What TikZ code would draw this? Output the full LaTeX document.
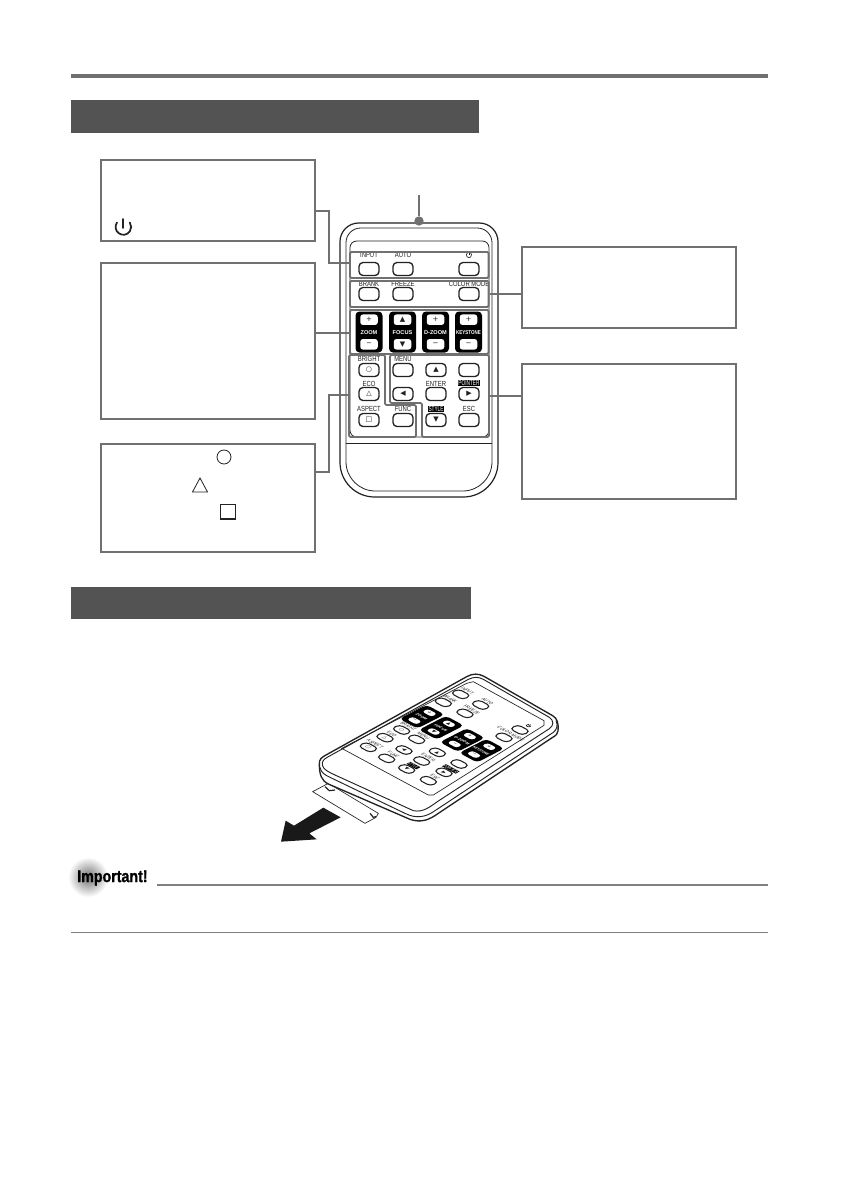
\documentclass[tikz,border=0pt]{standalone}
\usepackage{fontspec}
\setmainfont{Liberation Sans}
\newfontfamily\dvsym{DejaVu Sans}
\newfontfamily\impfont[UprightFont={* Bold},FakeBold=1.4]{Liberation Sans}
\definecolor{bar}{HTML}{535353}
\definecolor{rule}{HTML}{707070}
\definecolor{ink}{HTML}{222222}
\setlength{\fboxsep}{0.7pt}
\newcommand\keylw{1pt}
\tikzset{
  keyform/.style={cm={.75,0,0,.75,(0,0)}},
  callout/.style={draw=rule,line width=1.6pt,minimum width=160.5pt,inner sep=0,fill=white},
  wire/.style={draw=rule,line width=1.5pt},
  groupframe/.style={draw=rule,line width=1.4pt,rounded corners=1pt,inner sep=0},
  keybtn/.style={draw=ink,line width=\keylw,rounded corners=3pt,minimum width=20pt,minimum height=13pt,inner sep=0,font=\dvsym\fontsize{7}{7}\selectfont,text=ink,fill=white},
  keywhite/.style={fill=white,rounded corners=2pt,minimum width=17.5pt,minimum height=10.5pt,inner sep=0,font=\dvsym\fontsize{7}{7}\selectfont,text=ink},
  keyblock/.style={fill=black,rounded corners=3pt,minimum width=27pt,minimum height=41pt,inner sep=0},
  keylab/.style={font=\fontsize{7.4}{8}\selectfont,text=ink,inner sep=0},
  blocklab/.style={font=\bfseries\fontsize{5.6}{6}\selectfont,text=white,inner sep=0},
  outline/.style={draw=ink,line width=.9pt},
}
\newcommand\narrow[1]{\scalebox{.8}[1]{#1}}
\newcommand\invl[1]{\colorbox{black}{\textcolor{white}{\narrow{#1}}}}
\newcommand\key[6][11]{%
  \begin{scope}[shift={(#3,#4)},keyform,x=1pt,y=1pt,nodes={transform shape}]
    \node[keybtn] (#2) at (0,0) {#6};
    \if\relax\detokenize{#5}\relax\else\node[keylab] (#2-l) at (0,#1) {\narrow{#5}};\fi
  \end{scope}}
\newcommand\block[6]{%
  \begin{scope}[shift={(#2,#3)},keyform,x=1pt,y=1pt,nodes={transform shape}]
    \node[keyblock] (#1) at (0,0) {};
    \node[keywhite] (#1-a) at (0,12.3) {#5};
    \node[keywhite] (#1-b) at (0,-12.3) {#6};
    \node[blocklab] (#1-l) at (0,-.8) {#4};
  \end{scope}}
\newcommand\pwr[2]{%
  \begin{scope}[shift={(#1,#2)},keyform,x=1pt,y=1pt]
    \draw[ink,line width=.5pt] (0,3.2) -- (0,0);
    \draw[ink,line width=.5pt] (-1.7,2) arc[start angle=130,delta angle=280,radius=2.6];
  \end{scope}}
\begin{document}
\begin{tikzpicture}[x=.75pt,y=-.75pt]
\useasboundingbox (0,0) rectangle (840,1190);
\fill[white] (0,0) rectangle (840,1190);
% header
\fill[rule] (71,74) rectangle (768,78);
\fill[bar] (71,100) rectangle (479,133);
\fill[bar] (71,587) rectangle (471,619);
% callouts
\node[callout,minimum height=61pt,anchor=north west] (c1) at (99.5,159) {};
\node[callout,minimum height=117pt,anchor=north west] (c2) at (99.5,262) {};
\node[callout,minimum height=81pt,anchor=north west] (c3) at (99.5,442.5) {};
\node[callout,minimum height=61pt,anchor=north west] (c4) at (521,246) {};
\node[callout,minimum height=101pt,anchor=north west] (c5) at (521,363) {};
% symbols in callouts
\draw[ink,line width=1.3pt,line cap=round] (122.7,219) -- (122.7,228);
\draw[ink,line width=1.3pt,line cap=round] (117,222.5) arc[start angle=215,end angle=-35,radius=7.8];
\node[circle,draw=ink,line width=.6pt,minimum size=10.5pt,inner sep=0] (s1) at (224,457) {};
\draw[ink,line width=.6pt] (200,478) -- (207.5,492) -- (192.5,492) -- cycle;
\node[draw=ink,line width=.8pt,minimum size=11.2pt,inner sep=0] (s3) at (228,511.5) {};
% remote body, front
\draw[outline] (340,350) [rounded corners=14pt] -- (340,223) -- (498,223) [rounded corners=26pt] -- (498,497) -- (340,497) -- cycle;
\draw[outline,line width=.6pt] (346,350) [rounded corners=11pt] -- (346,228) -- (492,228) [rounded corners=22pt] -- (492,491) -- (346,491) -- cycle;
\draw[outline,line width=.6pt] (350,350) [rounded corners=5pt] -- (350,241) -- (489,241) -- (489,437) -- (350,437) -- cycle;
\draw[outline,line width=.6pt] (346,443) -- (492,443);
\node[circle,fill=rule,minimum size=7pt,inner sep=0] (lens) at (419,221) {};
\coordinate (lenstop) at (419,195);
\draw[wire] (lenstop) -- (lens);
% front keys
\key[14]{input}{369}{269}{INPUT}{}
\key[14]{auto}{403}{269}{AUTO}{}
\key{power}{469}{269}{}{}
\pwr{469}{255}
\key[10]{brank}{369}{294}{BRANK}{}
\key[10]{freeze}{403}{294}{FREEZE}{}
\key[10]{color}{469}{294}{COLOR MODE}{}
\block{zoom}{369}{332}{ZOOM}{+}{−}
\block{focus}{402.5}{332}{FOCUS}{▲}{▼}
\block{dzoom}{435.5}{332}{D-ZOOM}{+}{−}
\block{keyst}{468.5}{332}{\scalebox{.8}[1]{KEYSTONE}}{+}{−}
\key{bright}{369}{370}{BRIGHT}{○}
\key{menu}{403}{370}{MENU}{}
\key{up}{436}{370}{}{▲}
\key{blank}{469}{370}{}{}
\key[10]{eco}{369}{394}{ECO}{△}
\key{left}{403}{394}{}{◀}
\key[10]{enter}{436}{394}{ENTER}{}
\key[11]{right}{469}{394}{\invl{POINTER}}{▶}
\key[11]{aspect}{369}{420}{ASPECT}{□}
\key[11]{func}{403}{420}{FUNC}{}
\key[11]{down}{436}{420}{\invl{STYLE}}{▼}
\key[11]{esc}{469}{420}{ESC}{}
% group frames
\node[groupframe,minimum width=104pt,minimum height=19.5pt,anchor=north west] (g1) at (349,251) {};
\node[groupframe,minimum width=104pt,minimum height=19.5pt,anchor=north west] (g2) at (349,280) {};
\node[groupframe,minimum width=104pt,minimum height=33pt,anchor=north west] (g3) at (349,309) {};
\draw[draw=rule,line width=1.4pt,rounded corners=1pt] (349,355) -- (385,355) -- (385,405) -- (416,405) -- (416,437) -- (349,437) -- cycle;
\draw[draw=rule,line width=1.4pt,rounded corners=1pt] (390,355) -- (489,355) -- (489,437) -- (422,437) -- (422,403) -- (390,403) -- cycle;
\coordinate (g4w) at (349,395);
\coordinate (g5e) at (489,396);
% connectors
\coordinate (e1) at (315,211);
\coordinate (e2) at (315,333);
\coordinate (e3) at (315,472);
\draw[wire] (e1) -- (329,211) -- (329,263) -- (g1.west |- 0,263);
\draw[wire] (e2) -- (g3.west |- e2);
\draw[wire] (e3) -- (329,472) -- (329,395) -- (g4w);
\draw[wire] (g2.east) -- (c4.west |- g2.east);
\draw[wire] (g5e) -- (c5.west |- g5e);
% perspective remote (coordinates of a 3x crop)
\begin{scope}[shift={(270,660)},x=.25pt,y=-.25pt]
  % tab
  \draw[ink,line width=.5pt,fill=white] (128,395) -- (175,370) -- (325,460) -- (318,472) -- (285,490) -- cycle;
  % arrow
  \fill[black!90] (160,443) -- (212,472) -- (118,520) -- (140,538) -- (33,545) -- (47,482) -- (72,497) -- cycle;
  % body
  \draw[outline,line width=1pt,fill=white] (148,312) .. controls (147,298) and (155,292) .. (168,285) -- (590,50) .. controls (608,40) and (625,40) .. (642,49) -- (848,167) .. controls (862,176) and (866,188) .. (864,213) .. controls (863,222) and (858,226) .. (848,232) -- (505,460) .. controls (480,478) and (455,490) .. (420,478) -- (175,372) .. controls (155,362) and (148,345) .. (148,312) -- cycle;
  \draw[outline,line width=.7pt] (150,322) .. controls (153,338) and (165,345) .. (180,352) -- (405,460) .. controls (440,478) and (470,470) .. (495,452) -- (850,217) .. controls (862,208) and (864,195) .. (858,182);
  \draw[outline,line width=.7pt] (158,318) .. controls (154,305) and (160,298) .. (175,290) -- (595,58) .. controls (612,50) and (625,50) .. (640,58) -- (838,172) .. controls (852,182) and (852,196) .. (838,206) -- (505,423) .. controls (480,440) and (460,458) .. (430,452) -- (195,345) .. controls (175,335) and (162,330) .. (158,318) -- cycle;
  \draw[outline,line width=.5pt] (215,265) -- (590,70) -- (610,65) -- (822,182) -- (822,196) -- (490,405) -- (475,405) -- cycle;
  \draw[ink,line width=.9pt] (165,380) -- (178,392) -- (195,390);
  \draw[ink,line width=.9pt] (300,460) -- (310,472) -- (318,470);
  \def\keylw{.8pt}
  \tikzset{
    keyform/.style={cm={0.4625,-0.25,0.4625,0.2375,(0,0)}},
    keywhite/.append style={minimum width=15pt,minimum height=9pt},
    keyblock/.append style={minimum width=29pt,minimum height=44pt},
  }
  \key{iinput}{572}{103}{INPUT}{}
  \key{iauto}{632}{135}{AUTO}{}
  \key{ipower}{750}{210}{}{}
  \pwr{776}{197}
  \key{ibrank}{520}{127}{BRANK}{}
  \key{ifreeze}{585}{160}{FREEZE}{}
  \key{icolor}{702}{232}{COLOR MODE}{}
  \block{izoom}{456}{170}{ZOOM}{+}{−}
  \block{ifocus}{514}{203}{FOCUS}{▲}{▼}
  \block{idzoom}{577}{240}{D-ZOOM}{+}{−}
  \block{ikeyst}{635}{272}{\scalebox{.8}[1]{KEYSTONE}}{+}{−}
  \key{ibright}{395}{210}{BRIGHT}{○}
  \key{ieco}{345}{233}{ECO}{△}
  \key{iaspect}{295}{262}{ASPECT}{□}
  \key{imenu}{440}{238}{MENU}{}
  \key{ileft}{402}{270}{}{◀}
  \key{ifunc}{350}{295}{FUNC}{}
  \key{iup}{502}{277}{}{▲}
  \key{ienter}{455}{303}{ENTER}{}
  \key{idown}{410}{327}{\invl{STYLE}}{▼}
  \key{iblank}{567}{312}{}{}
  \key{iright}{522}{337}{\invl{POINTER}}{▶}
  \key{iesc}{475}{362}{ESC}{}
\end{scope}
% important
\node[circle,minimum size=30pt,inner sep=0,inner color=black!55,outer color=white,draw=none] (blob) at (88,877) {};
\node[inner sep=0,anchor=west,font=\impfont\fontsize{11}{12}\selectfont,text=black] (imp) at (77,878) {\scalebox{.97}[1.15]{Important!}};
\coordinate (r1a) at (157,885);
\coordinate (r1b) at (768,885);
\coordinate (r2a) at (71,932.5);
\coordinate (r2b) at (768,932.5);
\draw[draw=black!50,line width=1.2pt] (r1a) -- (r1b);
\draw[draw=black!50,line width=1.2pt] (r2a) -- (r2b);
\end{tikzpicture}
\end{document}
